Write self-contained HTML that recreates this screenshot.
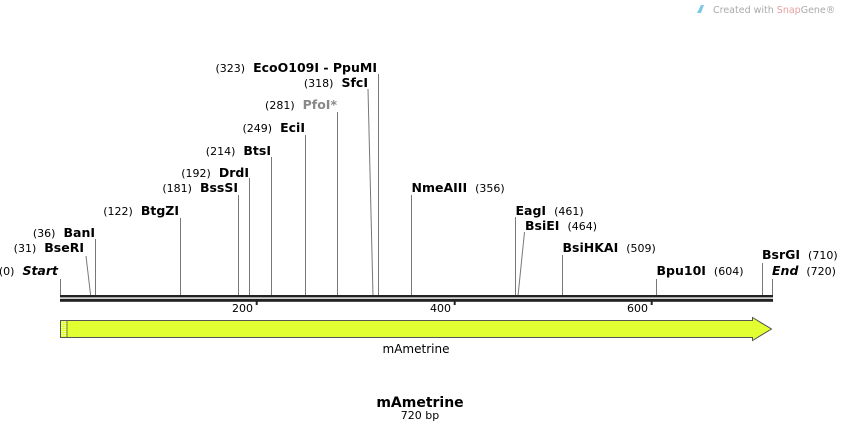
<!DOCTYPE html>
<html><head><meta charset="utf-8"><style>
html,body{margin:0;padding:0;background:#fff;width:841px;height:432px;overflow:hidden}
svg{display:block}
text{font-family:"DejaVu Sans","Liberation Sans",sans-serif;font-size:11.5px;fill:#000}
.n{font-weight:bold;font-size:12.5px}
.num{font-size:11px;font-weight:normal}
</style></head><body>
<svg width="841" height="432" viewBox="0 0 841 432" xmlns="http://www.w3.org/2000/svg">
<g fill="none" stroke="#777" stroke-width="1">
<line x1="60.5" y1="279" x2="60.5" y2="296"/>
<line x1="86" y1="256" x2="90.7" y2="296"/>
<line x1="95.5" y1="239" x2="95.5" y2="296"/>
<line x1="180.5" y1="218" x2="180.5" y2="296"/>
<line x1="238.5" y1="195" x2="238.5" y2="296"/>
<line x1="249.5" y1="178" x2="249.5" y2="296"/>
<line x1="271.5" y1="157" x2="271.5" y2="296"/>
<line x1="305.5" y1="135" x2="305.5" y2="296"/>
<line x1="337.5" y1="112" x2="337.5" y2="296"/>
<line x1="368" y1="89" x2="373" y2="296"/>
<line x1="378.5" y1="74" x2="378.5" y2="296"/>
<line x1="411.5" y1="195" x2="411.5" y2="296"/>
<line x1="515.5" y1="217" x2="515.5" y2="296"/>
<line x1="524.5" y1="232" x2="518" y2="296"/>
<line x1="562.5" y1="255" x2="562.5" y2="296"/>
<line x1="656.5" y1="279" x2="656.5" y2="296"/>
<line x1="762.5" y1="263" x2="762.5" y2="296"/>
<line x1="772.5" y1="279" x2="772.5" y2="296"/>
</g>
<rect x="60" y="295" width="713" height="2.4" fill="#222"/>
<rect x="60" y="298.8" width="713" height="3" fill="#222"/>
<rect x="255.7" y="300" width="2" height="5" fill="#222"/>
<rect x="453.7" y="300" width="2" height="5" fill="#222"/>
<rect x="650.7" y="300" width="2" height="5" fill="#222"/>
<text x="253" y="312" text-anchor="end" class="num">200</text>
<text x="451" y="312" text-anchor="end" class="num">400</text>
<text x="648" y="312" text-anchor="end" class="num">600</text>

<path d="M60.5 320.5 H752.5 V317.5 L771.5 329 L752.5 340.5 V337.5 H60.5 Z" fill="#e1ff31" stroke="#555" stroke-width="1"/>
<line x1="62" y1="321" x2="62" y2="337" stroke="#fff" stroke-dasharray="1,1"/>
<line x1="65" y1="321" x2="65" y2="337" stroke="#fff" stroke-dasharray="1,1"/>
<line x1="67" y1="321" x2="67" y2="337" stroke="#555" stroke-width="0.8"/>
<text x="416" y="353" text-anchor="middle" style="font-size:12px">mAmetrine</text>

<g text-anchor="end">
<text x="58" y="275"><tspan class="num">(0)</tspan><tspan dx="8" class="n" font-style="italic">Start</tspan></text>
<text x="84" y="252"><tspan class="num">(31)</tspan><tspan dx="8" class="n">BseRI</tspan></text>
<text x="95" y="237"><tspan class="num">(36)</tspan><tspan dx="8" class="n">BanI</tspan></text>
<text x="179" y="215"><tspan class="num">(122)</tspan><tspan dx="8" class="n">BtgZI</tspan></text>
<text x="238" y="192"><tspan class="num">(181)</tspan><tspan dx="8" class="n">BssSI</tspan></text>
<text x="249" y="177"><tspan class="num">(192)</tspan><tspan dx="8" class="n">DrdI</tspan></text>
<text x="271" y="155"><tspan class="num">(214)</tspan><tspan dx="8" class="n">BtsI</tspan></text>
<text x="305" y="132"><tspan class="num">(249)</tspan><tspan dx="8" class="n">EciI</tspan></text>
<text x="337" y="109"><tspan class="num">(281)</tspan><tspan dx="8" class="n" style="fill:#888">PfoI*</tspan></text>
<text x="368" y="87"><tspan class="num">(318)</tspan><tspan dx="8" class="n">SfcI</tspan></text>
<text x="377" y="72"><tspan class="num">(323)</tspan><tspan dx="8" class="n">EcoO109I - PpuMI</tspan></text>
</g>
<g text-anchor="start">
<text x="411.5" y="192"><tspan class="n">NmeAIII</tspan><tspan dx="8" class="num">(356)</tspan></text>
<text x="515.5" y="215"><tspan class="n">EagI</tspan><tspan dx="8" class="num">(461)</tspan></text>
<text x="525" y="230"><tspan class="n">BsiEI</tspan><tspan dx="8" class="num">(464)</tspan></text>
<text x="562.5" y="252"><tspan class="n">BsiHKAI</tspan><tspan dx="8" class="num">(509)</tspan></text>
<text x="656.5" y="275"><tspan class="n">Bpu10I</tspan><tspan dx="8" class="num">(604)</tspan></text>
<text x="762" y="259"><tspan class="n">BsrGI</tspan><tspan dx="8" class="num">(710)</tspan></text>
<text x="772" y="275"><tspan class="n" font-style="italic">End</tspan><tspan dx="8" class="num">(720)</tspan></text>
</g>

<text x="420" y="407" text-anchor="middle" style="font-size:14px;font-weight:bold">mAmetrine</text>
<text x="420" y="419" text-anchor="middle" style="font-size:11px">720 bp</text>

<path d="M697 13 L701 5 L704 5 L701 13 Z" fill="#7ec8e3"/>
<text x="713" y="13" style="font-size:9.5px;fill:#aaa">Created with <tspan style="fill:#e8a0a0">Snap</tspan>Gene®</text>
</svg>
</body></html>
